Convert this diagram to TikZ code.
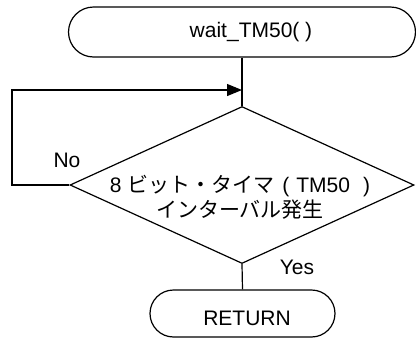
\documentclass[tikz,border=0pt]{standalone}
\usepackage{fontspec}
\setmainfont{Liberation Sans}
\newfontfamily\jpfont{Noto Sans CJK JP}
\usetikzlibrary{shapes.geometric,shapes.misc,arrows.meta}
\begin{document}
\begin{tikzpicture}[x=1pt,y=-1pt,line width=1.2pt,
  term/.style={draw,rounded rectangle,inner sep=0pt},
  decbox/.style={draw,diamond,inner sep=0pt,minimum width=344pt,minimum height=157pt},
  txt/.style={inner sep=0pt,font=\fontsize{21}{25}\selectfont,align=center},
  flow/.style={-{Triangle[length=15pt,width=12pt]}}]
\useasboundingbox (0,0) rectangle (416,338);
\node[term,minimum width=347pt,minimum height=50pt] (start) at (242,32) {};
\node[txt] (starttext) at (251,32) {wait\_TM50( )};
\node[decbox] (dec) at (242,185) {};
\node[txt] (dectext) at (240,197) {8 {\jpfont ビット・タイマ}\hspace{8pt}(\hspace{7pt}TM50\hspace{13pt})\\{\jpfont インターバル発生}};
\node[term,minimum width=185pt,minimum height=47pt] (ret) at (242.5,313.5) {};
\node[txt] (rettext) at (247,318) {RETURN};
\node[txt] (no) at (67,160) {No};
\node[txt] (yes) at (297,267) {Yes};
\coordinate (lc1) at (12,185);
\coordinate (lc2) at (12,90);
\coordinate (merge) at (242,90);
\draw (start.south) -- (dec.north);
\draw[flow] (dec.west) -- (lc1) -- (lc2) -- (merge);
\draw (dec.south) -- (ret.north);
\end{tikzpicture}
\end{document}
